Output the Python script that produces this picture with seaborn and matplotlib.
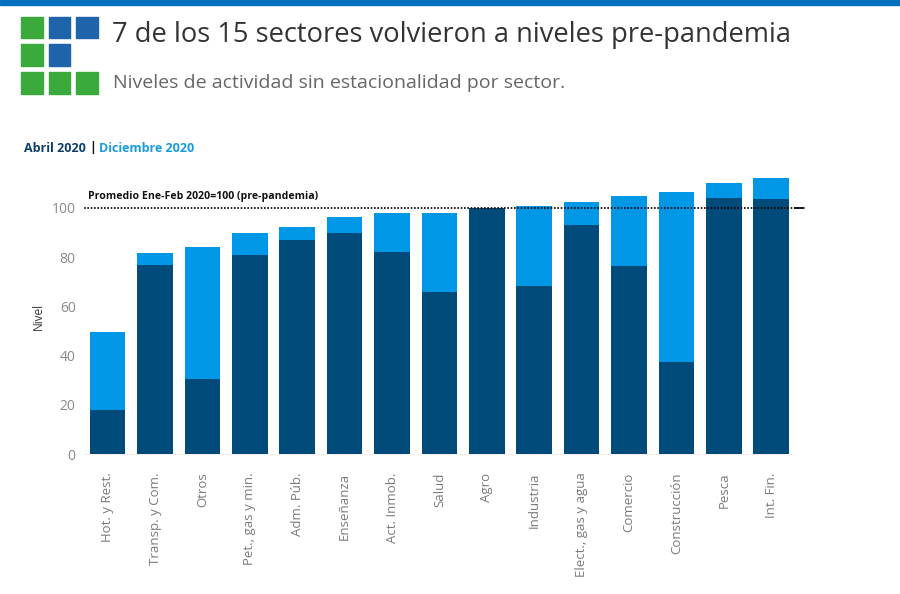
import matplotlib
matplotlib.use('Agg')
import matplotlib.pyplot as plt
import seaborn as sns
import pandas as pd
from matplotlib.patches import Rectangle

sectores = ['Hot. y Rest.', 'Transp. y Com.', 'Otros', 'Pet., gas y min.', 'Adm. Púb.',
            'Enseñanza', 'Act. Inmob.', 'Salud', 'Agro', 'Industria',
            'Elect., gas y agua', 'Comercio', 'Construcción', 'Pesca', 'Int. Fin.']
abril = [18, 76.7, 30.4, 80.8, 87.0, 90.0, 82.2, 65.9, 100.1, 68.2, 93.1, 76.3, 37.4, 104.1, 103.7]
diciembre = [49.7, 81.8, 84.0, 90.0, 92.1, 96.2, 98.1, 98.1, 99.5, 100.8, 102.3, 104.9, 106.4, 110.0, 112.3]

oscuro = '#004B7A'
claro = '#0098E6'
verde = '#3BAA3C'
azul_logo = '#1F64AA'

df = pd.DataFrame({'sector': sectores, 'abril': abril, 'diciembre': diciembre})

sns.set_style('white')
plt.rcParams['font.family'] = ['Open Sans', 'DejaVu Sans']

fig = plt.figure(figsize=(9, 5.94), dpi=100)
ax = fig.add_axes([0.0933, 0.2232, 0.79, 0.4888])

sns.barplot(data=df, x='sector', y='diciembre', color=claro, saturation=1, width=0.75,
            linewidth=0, edgecolor='none', ax=ax)
sns.barplot(data=df, x='sector', y='abril', color=oscuro, saturation=1, width=0.75,
            linewidth=0, edgecolor='none', ax=ax)

ax.set_xlim(-0.5, 14.5)
ax.set_ylim(-3, 115)
ax.set_yticks([0, 20, 40, 60, 80, 100])
ax.tick_params(axis='y', labelsize=10, colors='#8a8a8a', length=0, pad=6)
ax.tick_params(axis='x', labelsize=9.5, colors='#7a7a7a', length=0, pad=8, rotation=90)
ax.set_xlabel('')
ax.set_ylabel('Nivel', fontsize=8.5, color='#333333', labelpad=5)
for s in ax.spines.values():
    s.set_visible(False)

# linea base y referencia pre-pandemia
ax.axhline(0, color='#f0c8c8', lw=0.6, ls=':', zorder=0)
ax.plot([-0.5, 14.68], [100, 100], color='black', lw=1.2, ls=(0, (1, 1)), clip_on=False, zorder=5)
ax.plot([14.5, 14.68], [100, 100], color='black', lw=1.2, clip_on=False, zorder=5)
ax.text(-0.42, 102.5, 'Promedio Ene-Feb 2020=100 (pre-pandemia)', fontsize=7.6,
        fontweight='bold', color='#111111', va='bottom', ha='left')

# banda superior
fig.patches.append(Rectangle((0, 1 - 5 / 594), 1, 5 / 594, transform=fig.transFigure,
                             color='#0070C0', zorder=0))

# logo
logo = [[verde, azul_logo, azul_logo], [verde, azul_logo, None], [verde, verde, verde]]
for i, fila in enumerate(logo):
    for j, c in enumerate(fila):
        if c is None:
            continue
        x0 = 21 + j * 27.7
        y0 = 16.7 + i * 27.8
        fig.patches.append(Rectangle((x0 / 900, 1 - (y0 + 21.5) / 594), 21.5 / 900, 21.5 / 594,
                                     transform=fig.transFigure, color=c))

fig.text(112 / 900, 1 - 35 / 594, '7 de los 15 sectores volvieron a niveles pre-pandemia',
         fontsize=19.6, color='#333333', va='center', ha='left')
fig.text(113 / 900, 1 - 83 / 594, 'Niveles de actividad sin estacionalidad por sector.',
         fontsize=14, color='#666666', va='center', ha='left')

t1 = fig.text(24 / 900, 1 - 148 / 594, 'Abril 2020', fontsize=9, fontweight='bold',
              color='#0B3F6E', va='center', ha='left')
fig.canvas.draw()
bb = t1.get_window_extent()
t2 = fig.text(bb.x1 / 900 + 3 / 900, 1 - 148 / 594, '|', fontsize=9, fontweight='bold',
              color='#111111', va='center', ha='left')
bb2 = t2.get_window_extent()
fig.text(bb2.x1 / 900 + 3 / 900, 1 - 148 / 594, 'Diciembre 2020', fontsize=9, fontweight='bold',
         color='#1A9BE0', va='center', ha='left')

fig.savefig('out.png', dpi=100)
